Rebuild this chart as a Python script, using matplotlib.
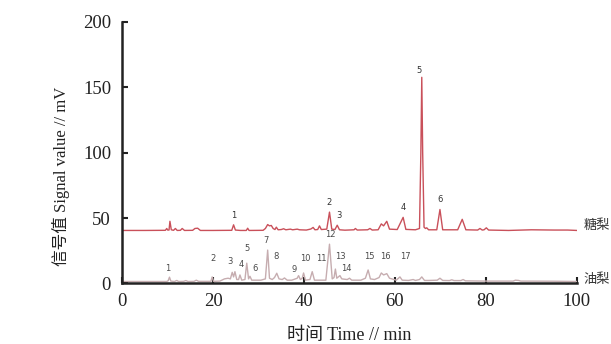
import matplotlib
matplotlib.use("Agg")
import matplotlib.pyplot as plt

# ---------------------------------------------------------------------------
# Data
# ---------------------------------------------------------------------------
# 糖梨 trace: retention time (min) and signal (mV)
TANG_T = [0, 5, 9.5, 9.8, 10.0, 10.3, 10.5, 10.8, 11.3, 11.7, 12.1, 12.8, 13.2, 13.7,
          15.5, 16.0, 16.6, 17.2, 20, 24.1, 24.5, 24.9, 26, 27.3, 27.6, 27.9, 31.0,
          31.5, 32.0, 32.4, 32.8, 33.2, 33.6, 33.9, 34.3, 35.0, 35.5, 36.0, 37.0,
          37.5, 38.5, 39.0, 40.5, 41.5, 42.0, 42.4, 43.0, 43.4, 43.8, 45.0, 45.6,
          46.1, 46.8, 47.3, 47.8, 49.0, 51.0, 51.3, 51.7, 54.0, 54.5, 55.0, 56.3,
          57.0, 57.5, 58.2, 58.8, 60.5, 61.8, 62.4, 64.5, 65.4, 65.7, 65.9, 66.1,
          66.4, 66.7, 67.0, 67.4, 69.2, 69.9, 70.5, 73.8, 74.8, 75.6, 78.2, 78.7,
          79.2, 79.6, 80.1, 80.6, 85, 90, 95, 98, 100]
TANG_Y = [40.5, 40.5, 40.6, 42.0, 40.8, 40.8, 47.5, 41.0, 40.6, 42.0, 40.5, 40.6, 42.0, 40.5,
          40.6, 42.0, 42.2, 40.5, 40.5, 40.6, 44.8, 40.8, 40.5, 40.5, 42.2, 40.5, 40.6,
          42.0, 45.0, 44.0, 44.3, 42.0, 41.2, 43.0, 41.0, 41.2, 41.8, 41.0, 41.5,
          41.0, 41.5, 41.0, 40.8, 41.6, 42.8, 41.0, 41.2, 44.0, 41.2, 41.5, 54.5,
          41.5, 41.2, 44.5, 41.0, 40.7, 41.0, 42.0, 40.8, 41.0, 42.0, 40.8, 41.0,
          45.5, 44.0, 47.5, 41.5, 41.2, 50.5, 41.3, 41.0, 42.0, 100.0, 157.5, 100.0,
          43.0, 42.0, 42.5, 41.0, 41.0, 56.5, 41.0, 41.0, 49.0, 41.0, 40.8, 42.0,
          40.8, 41.0, 42.5, 40.8, 40.5, 41.0, 40.8, 40.8, 40.5]

# 油梨 trace
YOU_T = [0, 9.8, 10.1, 10.4, 10.7, 11.5, 12.0, 12.4, 13.5, 14.0, 14.5, 15.8, 16.3, 16.8,
         19.5, 19.8, 20.1, 21.5, 22.5, 23.3, 23.8, 24.2, 24.5, 24.8, 25.2, 25.6, 25.9,
         26.3, 27.0, 27.4, 27.8, 28.1, 28.5, 30.5, 31.5, 32.0, 32.4, 33.0, 33.5, 34.0,
         34.5, 35.2, 35.7, 36.3, 37.3, 38.5, 38.8, 39.2, 39.6, 39.9, 40.3, 41.3, 41.8,
         42.3, 44.8, 45.6, 46.2, 46.6, 46.9, 47.2, 47.9, 48.3, 49.5, 50.0, 50.5, 52.5,
         53.5, 54.1, 54.6, 55.5, 56.5, 57.0, 57.5, 58.2, 58.8, 60.3, 61.1, 61.6, 63.0,
         64.0, 64.5, 65.4, 65.9, 66.5, 67.5, 69.3, 69.9, 70.5, 72.0, 72.5, 73.0, 74.5,
         75.0, 75.5, 80.0, 86.0, 86.5, 87.2, 87.7, 95.0, 100.0]
YOU_Y = [1.5, 1.5, 2.0, 4.8, 1.8, 1.5, 2.3, 1.5, 1.6, 2.2, 1.5, 1.6, 2.5, 1.6,
         1.6, 5.0, 1.6, 1.8, 3.5, 4.0, 3.5, 8.5, 5.0, 9.0, 3.0, 3.0, 6.5,
         2.5, 3.0, 15.5, 3.5, 5.5, 2.5, 2.5, 3.5, 25.5, 4.0, 3.0, 4.5, 7.8,
         3.5, 3.0, 4.2, 2.5, 2.5, 4.0, 6.0, 3.0, 4.0, 8.0, 2.5, 3.0, 9.0,
         2.5, 2.5, 30.0, 3.5, 4.5, 11.0, 4.0, 6.0, 3.5, 3.0, 4.0, 2.5, 2.5,
         4.0, 10.3, 3.5, 3.0, 4.5, 8.0, 6.5, 7.5, 4.0, 2.5, 5.0, 2.5, 2.3,
         3.0, 2.3, 3.0, 5.0, 2.3, 2.3, 2.5, 4.0, 2.3, 2.2, 2.8, 2.2, 2.2,
         3.0, 2.0, 1.8, 1.8, 2.5, 2.3, 1.8, 1.7, 1.5]

# peak numbers and where they sit
TANG_PEAKS = ["1", "2", "3", "4", "5", "6"]
TANG_PEAK_T = [24.5, 45.6, 47.7, 61.8, 65.2, 70.0]
TANG_PEAK_Y = [48.5, 58.5, 48.5, 54.5, 159, 61]

YOU_PEAKS = [str(i) for i in range(1, 18)]
YOU_PEAK_T = [10.1, 19.9, 23.7, 26.1, 27.5, 29.2, 31.6, 33.8, 37.8, 40.2, 43.7,
              45.7, 47.9, 49.4, 54.3, 57.8, 62.3]
YOU_PEAK_Y = [8.2, 15.4, 13.4, 10.8, 23.0, 8.2, 29.4, 17.2, 7.3, 15.9, 15.9,
              33.7, 17.2, 7.8, 17.2, 17.2, 17.2]

X_TICKS = [0, 20, 40, 60, 80, 100]
Y_TICKS = [0, 50, 100, 150, 200]

# ---------------------------------------------------------------------------
# Plot
# ---------------------------------------------------------------------------
SERIF = ["Liberation Serif", "Noto Sans CJK SC"]
CJK = ["Noto Sans CJK SC", "DejaVu Sans"]

fig = plt.figure(figsize=(6.11, 3.44), dpi=100)
ax = fig.add_axes([0.2, 0.176, 0.744, 0.761])

ax.plot(TANG_T, TANG_Y, color="#c9505a", lw=1.0)
ax.plot(YOU_T, YOU_Y, color="#c6adb0", lw=1.0)

for lab, t, y in zip(TANG_PEAKS, TANG_PEAK_T, TANG_PEAK_Y):
    ax.text(t, y, lab, fontsize=6, ha="center", va="bottom", color="#333333")
for lab, t, y in zip(YOU_PEAKS, YOU_PEAK_T, YOU_PEAK_Y):
    ax.text(t, y, lab, fontsize=6, ha="center", va="bottom", color="#4a4a4a")

ax.text(101.5, 44.5, "糖梨", family=CJK, fontsize=9.5, va="center", ha="left",
        color="#333333", clip_on=False)
ax.text(101.5, 3.0, "油梨", family=CJK, fontsize=9.5, va="center", ha="left",
        color="#333333", clip_on=False)

ax.set_xlim(0, 100)
ax.set_ylim(0, 200)
ax.set_xticks(X_TICKS)
ax.set_yticks(Y_TICKS)
ax.tick_params(direction="in", length=4, width=1.5, colors="#222222",
               labelsize=13.5)
ax.tick_params(axis="x", pad=7)
ax.tick_params(axis="y", pad=8)
for lbl in ax.get_xticklabels() + ax.get_yticklabels():
    lbl.set_family(SERIF)
    lbl.set_color("#222222")

for side in ("top", "right"):
    ax.spines[side].set_visible(False)
for side in ("left", "bottom"):
    ax.spines[side].set_linewidth(1.8)
    ax.spines[side].set_color("#222222")

ax.set_xlabel("时间 Time // min", family=SERIF, fontsize=13, color="#222222",
              labelpad=12)
ax.set_ylabel("信号值 Signal value // mV", family=SERIF, fontsize=12,
              color="#222222")
ax.yaxis.set_label_coords(-0.115, 0.41)

fig.savefig("out.png", dpi=100)
